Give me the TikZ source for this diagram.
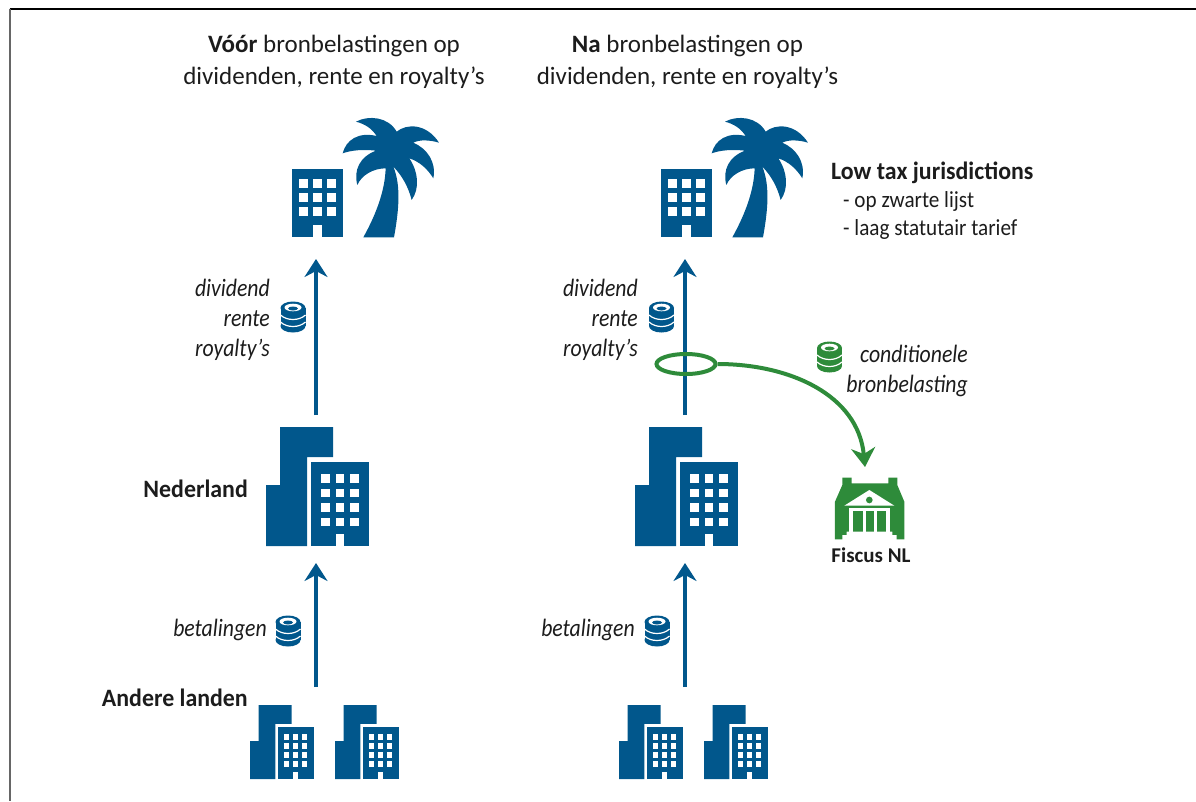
\documentclass[tikz,border=0pt]{standalone}
\usepackage{fontspec}
\setmainfont{Carlito}
\newfontfamily\narrowit{Carlito}[FakeStretch=0.87]
\newfontfamily\narrowbf{Carlito}[FakeStretch=0.955]
\newfontfamily\narrowrm{Carlito}[FakeStretch=0.92]
\usetikzlibrary{arrows.meta, shapes.geometric}

\definecolor{rijksblue}{HTML}{01578C}
\definecolor{fiscusgreen}{HTML}{2E8B3A}
\definecolor{inktext}{HTML}{1C1C1C}

\tikzset{
    iconbox/.style={inner sep=0pt, outer sep=0pt, minimum width=60pt},
    lbl/.style={inner sep=0pt, text=inktext, font=\fontsize{25}{32}\selectfont},
    boldlbl/.style={lbl, font=\narrowbf\fontsize{25}{31}\selectfont\bfseries},
    sublbl/.style={lbl, anchor=west, font=\narrowrm\fontsize{23}{28}\selectfont},
    itlbl/.style={lbl, font=\narrowit\fontsize{25}{30}\selectfont\itshape, align=right, anchor=east},
    flow/.style={->, line width=4pt, color=rijksblue, >={Stealth[length=18pt,width=23pt,inset=6pt]}},
    taxflow/.style={->, line width=4pt, color=fiscusgreen, >={Stealth[length=19pt,width=24pt,inset=6pt]}},
    pics/office/.style={code={
        \fill[rijksblue] (0,0) -- (0,-61) -- (14,-61) -- (14,-119) -- (67,-119) -- (67,-89)
            -- (41,-89) -- (41,0) -- cycle;
        \fill[rijksblue] (45,0) rectangle (103,-84);
        \foreach \wx in {55,69.5,84} {
            \foreach \wy in {-72,-57.5,-43,-28.5} {
                \fill[white] (\wx,\wy) rectangle ++(8.5,8.5);
            }
        }
        \fill[white] (69.5,0) rectangle (78,-12);
    }},
    pics/palmoffice/.style={code={
        \fill[rijksblue] (22,69) rectangle (73,137);
        \foreach \wx in {29,43,57} {
            \foreach \wy in {79,93,107} {
                \fill[white] (\wx,\wy) rectangle ++(8.5,8.5);
            }
        }
        \fill[white] (43,137) rectangle (51.5,125);
        \fill[rijksblue, scale=.3333] (280,412) .. controls (320,340) and (345,270) .. (347,205)
            .. controls (310,205) and (275,225) .. (262,255)
            .. controls (250,210) and (270,170) .. (318,152)
            .. controls (280,148) and (245,150) .. (218,160)
            .. controls (228,120) and (265,95) .. (320,108)
            .. controls (305,85) and (285,72) .. (258,65)
            .. controls (295,45) and (355,50) .. (380,95)
            .. controls (410,70) and (470,70) .. (507,128)
            .. controls (480,120) and (450,118) .. (430,128)
            .. controls (470,145) and (500,185) .. (490,235)
            .. controls (475,210) and (450,185) .. (418,175)
            .. controls (445,215) and (450,265) .. (425,300)
            .. controls (415,260) and (395,225) .. (370,200)
            .. controls (395,260) and (385,340) .. (372,412) -- cycle;
    }},
    pics/coins/.style={code={
        \fill[#1] (0,-9) ellipse [x radius=12.5, y radius=6.5];
        \fill[#1] (-12.5,-9) rectangle (12.5,9);
        \fill[#1] (0,9) ellipse [x radius=12.5, y radius=6.5];
        \fill[white] (0,-9.5) ellipse [x radius=8.5, y radius=3.8];
        \fill[#1] (0,-8.5) ellipse [x radius=5, y radius=2];
        \draw[white, line width=1.2pt] (-12.5,-2) .. controls (-6,4) and (6,4) .. (12.5,-2);
        \draw[white, line width=1.2pt] (-12.5,5) .. controls (-6,11) and (6,11) .. (12.5,5);
    }},
    pics/bank/.style={code={
        \begin{scope}[scale=.3333]
        \fill[fiscusgreen] (585,628) -- (585,515) -- (607,465) -- (607,443) -- (635,443) -- (635,460)
            -- (745,460) -- (745,443) -- (772,443) -- (772,465) -- (793,515) -- (793,628)
            -- (770,628) -- (770,615) -- (757,615) -- (757,605) -- (620,605) -- (620,615)
            -- (607,615) -- (607,628) -- cycle;
        \fill[white] (613,527) -- (688,480) -- (763,527) -- cycle;
        \fill[fiscusgreen] (688,510) circle [radius=10];
        \fill[white] (628,535) rectangle (749,544);
        \foreach \gapx/\gapw in {628/11, 668/10, 702/10, 738/11} {
            \fill[white] (\gapx,540) rectangle ++(\gapw,65);
        }
        \end{scope}
    }},
}

\begin{document}
\begin{tikzpicture}[x=1pt, y=-1pt]
    \useasboundingbox (0,0) rectangle (1196,801);

    % frame
    \coordinate (frameTL) at (9.5,9);
    \coordinate (frameTR) at (1196,9);
    \coordinate (frameBL) at (9.5,801);
    \draw[black, line width=1.6pt] (frameTL) -- (frameTR);
    \draw[black!60, line width=2pt] (frameTL) -- (frameBL);

    % headings
    \node[lbl, align=center] (headL) at (334,61.5) {\textbf{Vóór} bronbelastingen op\\dividenden, rente en royalty’s};
    \node[lbl, align=center] (headR) at (687.5,61.5) {\textbf{Na} bronbelastingen op\\dividenden, rente en royalty’s};

    % icons, left
    \pic at (270,100) {palmoffice};
    \pic at (266,546) {office};
    \pic[scale=.62] at (250,779) {office};
    \pic[scale=.62] at (335,779) {office};
    % icons, right
    \pic at (639,100) {palmoffice};
    \pic at (635,546) {office};
    \pic[scale=.62] at (619,779) {office};
    \pic[scale=.62] at (704,779) {office};
    \pic at (640,330) {bank};

    % boxes for the arrows
    \node[iconbox, minimum height=118pt] (palmL) at (316,200) {};
    \node[iconbox, minimum height=148pt] (nlL) at (316,489) {};
    \node[iconbox, minimum height=92pt] (andereL) at (316,733) {};
    \node[iconbox, minimum height=118pt] (palmR) at (685,200) {};
    \node[iconbox, minimum height=148pt] (nlR) at (685,489) {};
    \node[iconbox, minimum height=92pt] (andereR) at (685,733) {};
    \node[iconbox, minimum height=66pt] (fiscus) at (865,500) {};

    \draw[flow] (nlL.north) -- (palmL.south);
    \draw[flow] (andereL.north) -- (nlL.south);
    \draw[flow] (nlR.north) -- (palmR.south);
    \draw[flow] (andereR.north) -- (nlR.south);

    \node[ellipse, draw=fiscusgreen, line width=4pt, inner sep=0pt, minimum width=59pt, minimum height=20pt] (ring) at (686,364) {};
    \draw[taxflow] (ring.east) .. controls (790,364) and (858,395) .. (fiscus.north);

    % coins
    \pic at (293,317) {coins=rijksblue};
    \pic at (288,631) {coins=rijksblue};
    \pic at (661.5,317) {coins=rijksblue};
    \pic at (657,631) {coins=rijksblue};
    \pic at (829.5,357) {coins=fiscusgreen};

    % labels
    \node[itlbl] (payL) at (270,320) {dividend\\rente\\royalty’s};
    \node[itlbl] (payR) at (638,320) {dividend\\rente\\royalty’s};
    \node[itlbl] (betL) at (267,630) {betalingen};
    \node[itlbl] (betR) at (635,630) {betalingen};
    \node[itlbl] (cond) at (968,371) {conditionele\\bronbelasting};
    \node[boldlbl, anchor=east] (nederland) at (248,489) {Nederland};
    \node[boldlbl, anchor=east] (andere) at (248,698) {Andere landen};
    \node[boldlbl, anchor=west] (lowtax) at (831,173) {Low tax jurisdictions};
    \node[sublbl] (zwart) at (843,201) {- op zwarte lijst};
    \node[sublbl] (laag) at (843,229) {- laag statutair tarief};
    \node[boldlbl, font=\fontsize{21}{25}\selectfont\bfseries] (fiscusNL) at (871,555) {Fiscus NL};
\end{tikzpicture}
\end{document}
